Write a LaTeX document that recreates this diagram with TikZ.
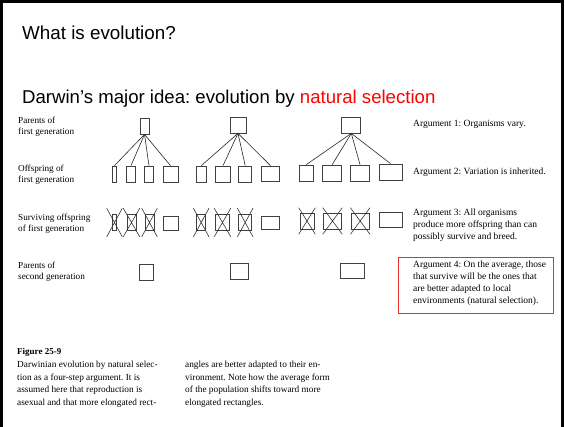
\documentclass[tikz,border=0pt]{standalone}
\usepackage{fontspec}
\setmainfont{Liberation Serif}
\newfontfamily\slidefont{Liberation Sans}
\usetikzlibrary{shapes.misc}
\frenchspacing

\definecolor{slidered}{RGB}{255,0,0}
\definecolor{boxred}{RGB}{232,48,40}

\tikzset{
  cell/.style={draw=black!75, line width=0.8pt, inner sep=0pt, minimum height=16pt},
  xmark/.style={cross out, draw=black!80, line width=0.6pt, inner sep=0pt, minimum width=15pt, minimum height=28pt},
  link/.style={black!85, line width=0.6pt},
  rowlabel/.style={anchor=west, align=left, inner sep=0pt, font=\fontsize{9.2}{11}\selectfont},
  argtext/.style={anchor=west, align=left, inner sep=0pt, font=\fontsize{9.5}{12}\selectfont},
  captext/.style={anchor=north west, align=left, inner sep=0pt, font=\fontsize{9.3}{12.5}\selectfont},
}

\begin{document}
\begin{tikzpicture}[x=1pt, y=-1pt]
\useasboundingbox (0,0) rectangle (565,426);
\draw[line width=3pt] (1.5,440) -- (1.5,1.5) -- (562,1.5) -- (562,440);

% headings
\node[anchor=base west, inner sep=0pt, font=\slidefont\fontsize{18.8}{22}\selectfont] (title) at (22,39) {What is evolution?};
\node[anchor=base west, inner sep=0pt, font=\slidefont\fontsize{18.6}{22}\selectfont] (idea) at (22,103) {Darwin’s major idea: evolution by \textcolor{slidered}{natural selection}};

% row labels
\node[rowlabel] (lab1) at (18,127) {Parents of\\first generation};
\node[rowlabel] (lab2) at (18,175) {Offspring of\\first generation};
\node[rowlabel] (lab3) at (18,223.5) {Surviving offspring\\of first generation};
\node[rowlabel] (lab4) at (18,272) {Parents of\\second generation};

% parents
\node[cell, minimum width=9pt]  (p1) at (144.5,126) {};
\node[cell, minimum width=16pt] (p2) at (238,125) {};
\node[cell, minimum width=19pt] (p3) at (351.3,125) {};

% offspring
\node[cell, minimum width=4.5pt] (a1) at (114.5,174) {};
\node[cell, minimum width=9.7pt] (a2) at (131,174) {};
\node[cell, minimum width=9.7pt] (a3) at (149,174) {};
\node[cell, minimum width=15pt]  (a4) at (170.5,174) {};

\node[cell, minimum width=9.3pt]  (b1) at (201.3,174) {};
\node[cell, minimum width=14.3pt] (b2) at (223,174) {};
\node[cell, minimum width=13pt]   (b3) at (245.2,174) {};
\node[cell, minimum width=17.6pt, minimum height=15pt] (b4) at (270.5,173.5) {};

\node[cell, minimum width=14.7pt] (c1) at (306.3,173) {};
\node[cell, minimum width=19pt]   (c2) at (332.2,173) {};
\node[cell, minimum width=18.7pt] (c3) at (360,173) {};
\node[cell, minimum width=23pt]   (c4) at (390.5,172) {};

\draw[link] (p1.south) -- (a1.north);
\draw[link] (p1.south) -- (a2.north);
\draw[link] (p1.south) -- (a3.north);
\draw[link] (p1.south) -- (a4.north);
\draw[link] (p2.south) -- (b1.north);
\draw[link] (p2.south) -- (b2.north);
\draw[link] (p2.south) -- (b3.north);
\draw[link] (p2.south) -- (b4.north);
\draw[link] (p3.south) -- (c1.north);
\draw[link] (p3.south) -- (c2.north);
\draw[link] (p3.south) -- (c3.north);
\draw[link] (p3.south) -- (c4.north);

% surviving offspring
\node[cell, minimum width=4.5pt] (s1) at (114.5,222.5) {};
\node[cell, minimum width=9pt]   (s2) at (131.5,222.5) {};
\node[cell, minimum width=9pt]   (s3) at (149.5,222.5) {};
\node[cell, minimum width=15pt, minimum height=14pt] (s4) at (170.8,223.3) {};

\node[cell, minimum width=9pt]    (t1) at (201.2,222.5) {};
\node[cell, minimum width=13.6pt] (t2) at (222.5,222.5) {};
\node[cell, minimum width=13pt]   (t3) at (245.2,222.5) {};
\node[cell, minimum width=17.6pt, minimum height=13pt] (t4) at (270.5,222.5) {};

\node[cell, minimum width=14pt]   (u1) at (307,221) {};
\node[cell, minimum width=18.4pt] (u2) at (332.5,221) {};
\node[cell, minimum width=18.3pt] (u3) at (360.2,221) {};
\node[cell, minimum width=23.3pt, minimum height=15pt] (u4) at (390.7,220.2) {};

\node[xmark] (xs1) at (s1) {};
\node[xmark, minimum width=16pt] (xs2) at (s2) {};
\node[xmark] (xs3) at (s3) {};
\node[xmark] (xt1) at (t1) {};
\node[xmark, minimum width=16pt] (xt2) at (t2) {};
\node[xmark] (xt3) at (t3) {};
\node[xmark, minimum width=16pt, minimum height=26pt] (xu1) at (u1) {};
\node[xmark, minimum width=19pt, minimum height=26pt] (xu2) at (u2) {};
\node[xmark, minimum width=19pt, minimum height=26pt] (xu3) at (u3) {};

% second generation
\node[cell, minimum width=14pt] (q1) at (146,272) {};
\node[cell, minimum width=18pt] (q2) at (239,271) {};
\node[cell, minimum width=24pt, minimum height=15pt] (q3) at (352,270.5) {};

% arguments
\node[argtext] (arg1) at (413,124) {Argument 1: Organisms vary.};
\node[argtext] (arg2) at (413,172.5) {Argument 2: Variation is inherited.};
\node[argtext] (arg3) at (413,225.5) {Argument 3: All organisms\\produce more offspring than can\\possibly survive and breed.};
\node[argtext] (arg4) at (413,283) {Argument 4: On the average, those\\that survive will be the ones that\\are better adapted to local\\environments (natural selection).};
\draw[boxred, line width=0.9pt] (398,257) rectangle (553,313);

% caption
\node[anchor=west, inner sep=0pt, font=\bfseries\fontsize{9}{11}\selectfont] (fig) at (17,352) {Figure 25-9};
\node[captext] (cap1) at (17,361) {Darwinian evolution by natural selec-\\tion as a four-step argument. It is\\assumed here that reproduction is\\asexual and that more elongated rect-};
\node[captext] (cap2) at (185,361) {angles are better adapted to their en-\\vironment. Note how the average form\\of the population shifts toward more\\elongated rectangles.};
\end{tikzpicture}
\end{document}
